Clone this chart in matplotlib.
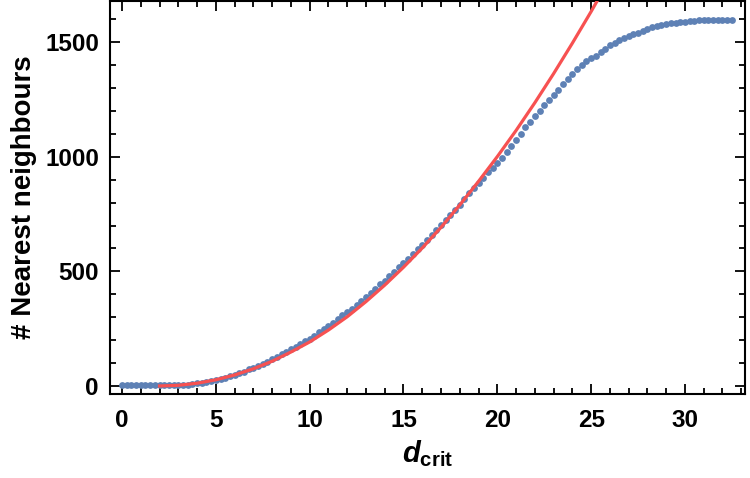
import numpy as np
import matplotlib
matplotlib.use("Agg")
import matplotlib.pyplot as plt
from matplotlib.ticker import MultipleLocator

plt.rcParams['font.family'] = ['Liberation Sans', 'DejaVu Sans']
plt.rcParams['mathtext.fontset'] = 'custom'
plt.rcParams['mathtext.it'] = 'Liberation Sans:italic:bold'
plt.rcParams['mathtext.bf'] = 'Liberation Sans:bold'
plt.rcParams['mathtext.rm'] = 'Liberation Sans:bold'

# measured counts, d_crit sampled every 0.25
d_crit = [
    0.0, 0.25, 0.5, 0.75, 1.0, 1.25, 1.5, 1.75, 2.0, 2.25, 2.5, 2.75,
    3.0, 3.25, 3.5, 3.75, 4.0, 4.25, 4.5, 4.75, 5.0, 5.25, 5.5, 5.75,
    6.0, 6.25, 6.5, 6.75, 7.0, 7.25, 7.5, 7.75, 8.0, 8.25, 8.5, 8.75,
    9.0, 9.25, 9.5, 9.75, 10.0, 10.25, 10.5, 10.75, 11.0, 11.25, 11.5, 11.75,
    12.0, 12.25, 12.5, 12.75, 13.0, 13.25, 13.5, 13.75, 14.0, 14.25, 14.5, 14.75,
    15.0, 15.25, 15.5, 15.75, 16.0, 16.25, 16.5, 16.75, 17.0, 17.25, 17.5, 17.75,
    18.0, 18.25, 18.5, 18.75, 19.0, 19.25, 19.5, 19.75, 20.0, 20.25, 20.5, 20.75,
    21.0, 21.25, 21.5, 21.75, 22.0, 22.25, 22.5, 22.75, 23.0, 23.25, 23.5, 23.75,
    24.0, 24.25, 24.5, 24.75, 25.0, 25.25, 25.5, 25.75, 26.0, 26.25, 26.5, 26.75,
    27.0, 27.25, 27.5, 27.75, 28.0, 28.25, 28.5, 28.75, 29.0, 29.25, 29.5, 29.75,
    30.0, 30.25, 30.5, 30.75, 31.0, 31.25, 31.5, 31.75, 32.0, 32.25, 32.5,
]
neighbours = [
    5, 5, 5, 5, 5, 5, 5, 5, 5, 5, 5, 5,
    5, 5, 5, 7, 11, 14, 17, 22, 27, 31, 37, 44,
    50, 55, 63, 72, 80, 87, 98, 106, 117, 126, 138, 150,
    160, 170, 183, 196, 207, 219, 234, 249, 262, 275, 291, 308,
    322, 337, 355, 373, 389, 405, 424, 443, 460, 478, 497, 518,
    536, 554, 575, 597, 617, 637, 659, 682, 702, 723, 746, 770,
    791, 814, 840, 866, 886, 908, 932, 951, 972, 996, 1019, 1048,
    1073, 1098, 1128, 1152, 1180, 1200, 1225, 1250, 1270, 1293, 1318, 1340,
    1363, 1382, 1400, 1416, 1430, 1440, 1456, 1472, 1487, 1497, 1508, 1518,
    1526, 1534, 1541, 1551, 1558, 1565, 1570, 1575, 1578, 1582, 1585, 1588,
    1590, 1593, 1594, 1595, 1596, 1596, 1596, 1596, 1596, 1596, 1596,
]

# fitted curve
fit_x = [2, 3, 4, 5, 6, 7, 8, 9, 10, 11, 12, 13, 14,
         15, 16, 17, 18, 19, 20, 21, 22, 23, 24, 25, 26]
fit_y = [0, 3, 12, 27, 48, 75, 108, 148, 192, 244, 302, 368, 440,
         518, 602, 692, 790, 893, 1001, 1115, 1236, 1363, 1496, 1634, 1778]

fig = plt.figure(figsize=(7.5, 4.78), dpi=100)
ax = fig.add_axes([110 / 750, 1 - 394 / 478, 635 / 750, 393 / 478])

ax.scatter(d_crit, neighbours, s=24, color='#5e81b5', linewidths=0, zorder=2)
ax.plot(fit_x, fit_y, color='#f75151', lw=2.3, zorder=3)

ax.set_xlim(-0.64, 33.2)
ax.set_ylim(-35, 1680)
ax.xaxis.set_major_locator(MultipleLocator(5))
ax.xaxis.set_minor_locator(MultipleLocator(1))
ax.yaxis.set_major_locator(MultipleLocator(500))
ax.yaxis.set_minor_locator(MultipleLocator(100))
ax.tick_params(which='both', direction='in', top=True, right=True,
               width=1.3, colors='black')
ax.tick_params(which='major', length=7, labelsize=17.5, pad=8)
ax.tick_params(which='minor', length=4)
ax.tick_params(axis='x', which='major', pad=11)
for lab in ax.get_xticklabels() + ax.get_yticklabels():
    lab.set_fontweight('bold')
for s in ax.spines.values():
    s.set_linewidth(1.5)

ax.set_xlabel(r'$d_{\mathbf{crit}}$', fontsize=21, labelpad=4)
ax.set_ylabel('# Nearest neighbours', fontsize=20, fontweight='bold', labelpad=6)

fig.savefig('out.png', dpi=100)
